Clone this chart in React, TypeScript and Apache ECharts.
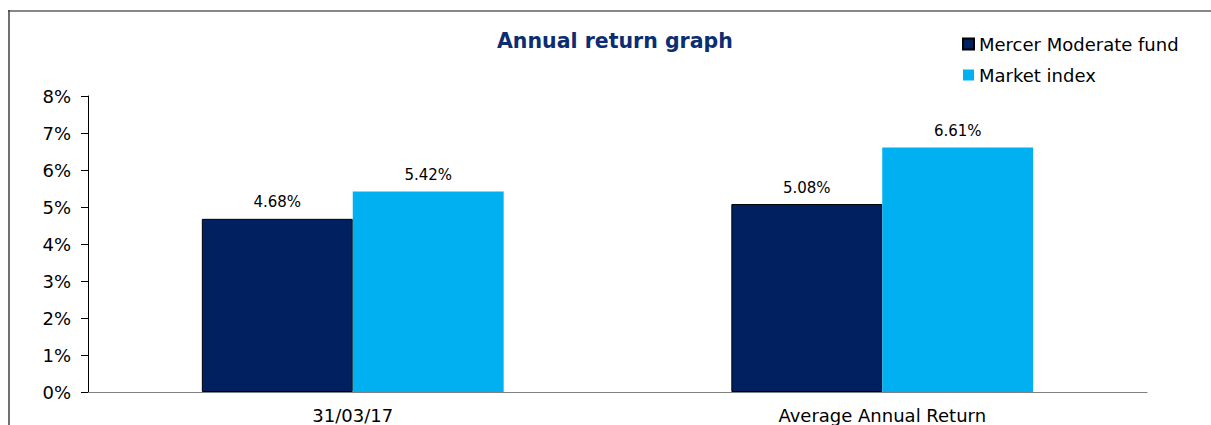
import React, { useEffect, useRef } from "react";
import * as echarts from "echarts";

const categories = ["31/03/17", "Average Annual Return"];
const fundValues = [4.68, 5.08];
const indexValues = [5.42, 6.61];
const seriesNames = ["Mercer Moderate fund", "Market index"];
const yTicks = { min: 0, max: 8, interval: 1 };

const FONT = "DejaVu Sans";

export default function App() {
  const ref = useRef<HTMLDivElement>(null);
  useEffect(() => {
    if (!ref.current) return;
    const chart = echarts.init(ref.current, null, { renderer: "svg" });
    const labelCfg = {
      show: true,
      position: "top",
      distance: 9,
      color: "#000",
      fontFamily: FONT,
      fontSize: 15,
      formatter: (p: any) => Number(p.value).toFixed(2) + "%",
    };
    chart.setOption({
      animation: false,
      backgroundColor: "#fff",
      title: {
        text: "Annual return graph",
        left: 497,
        top: 29,
        padding: 0,
        textStyle: {
          fontFamily: FONT,
          fontSize: 20.5,
          fontWeight: "bold",
          color: "#0B2D72",
          lineHeight: 24,
        },
      },
      legend: {
        orient: "vertical",
        left: 962,
        top: 34,
        padding: 0,
        itemWidth: 11,
        itemHeight: 11,
        itemGap: 11,
        icon: "rect",
        textStyle: { fontFamily: FONT, fontSize: 18, color: "#000", lineHeight: 20 },
        data: seriesNames,
      },
      grid: { left: 88, right: 64, top: 96, bottom: 33 },
      xAxis: {
        type: "category",
        data: categories,
        axisLine: { lineStyle: { color: "#808080", width: 1 } },
        axisTick: { show: false },
        axisLabel: { fontFamily: FONT, fontSize: 18, color: "#000", margin: 14 },
      },
      yAxis: {
        type: "value",
        min: yTicks.min,
        max: yTicks.max,
        interval: yTicks.interval,
        splitLine: { show: false },
        axisLine: { show: true, lineStyle: { color: "#000", width: 1 } },
        axisTick: { show: true, length: 7, lineStyle: { color: "#000" } },
        axisLabel: {
          fontFamily: FONT,
          fontSize: 18,
          color: "#000",
          margin: 17,
          formatter: "{value}%",
        },
      },
      series: [
        {
          name: seriesNames[0],
          type: "bar",
          data: fundValues,
          barGap: "0%",
          barCategoryGap: "43%",
          itemStyle: { color: "#002060", borderColor: "#000", borderWidth: 1 },
          label: labelCfg,
        },
        {
          name: seriesNames[1],
          type: "bar",
          data: indexValues,
          barGap: "0%",
          barCategoryGap: "43%",
          itemStyle: { color: "#00B0F0" },
          label: labelCfg,
        },
      ],
      graphic: [
        {
          type: "line",
          shape: { x1: 8, y1: 11, x2: 1211, y2: 11 },
          style: { stroke: "#878787", lineWidth: 2 },
          silent: true,
        },
        {
          type: "line",
          shape: { x1: 9, y1: 10, x2: 9, y2: 425 },
          style: { stroke: "#404040", lineWidth: 1.5 },
          silent: true,
        },
      ],
    });
    return () => chart.dispose();
  }, []);
  return (
    <div
      ref={ref}
      style={{ position: "absolute", left: 0, top: 0, width: 1211, height: 425 }}
    />
  );
}
